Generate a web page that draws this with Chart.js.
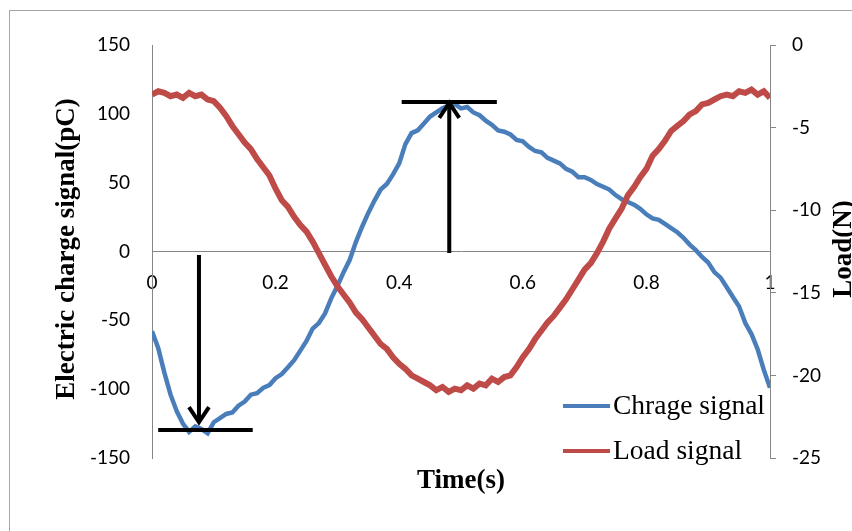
<!DOCTYPE html>
<html>
<head>
<meta charset="utf-8">
<script src="https://cdn.jsdelivr.net/npm/chart.js@4.4.1/dist/chart.umd.min.js"></script>
<style>
    html, body { margin: 0; padding: 0; background: #fff; }
    #wrap { width: 852px; height: 531px; }
</style>
</head>
<body>
<div id="wrap"><canvas id="chart" width="852" height="531"></canvas></div>
<script>
/* ====================================
   Data
   ==================================== */

const time = [
    0.00, 0.01, 0.02, 0.03, 0.04, 0.05, 0.06, 0.07, 0.08, 0.09,
    0.10, 0.11, 0.12, 0.13, 0.14, 0.15, 0.16, 0.17, 0.18, 0.19,
    0.20, 0.21, 0.22, 0.23, 0.24, 0.25, 0.26, 0.27, 0.28, 0.29,
    0.30, 0.31, 0.32, 0.33, 0.34, 0.35, 0.36, 0.37, 0.38, 0.39,
    0.40, 0.41, 0.42, 0.43, 0.44, 0.45, 0.46, 0.47, 0.48, 0.49,
    0.50, 0.51, 0.52, 0.53, 0.54, 0.55, 0.56, 0.57, 0.58, 0.59,
    0.60, 0.61, 0.62, 0.63, 0.64, 0.65, 0.66, 0.67, 0.68, 0.69,
    0.70, 0.71, 0.72, 0.73, 0.74, 0.75, 0.76, 0.77, 0.78, 0.79,
    0.80, 0.81, 0.82, 0.83, 0.84, 0.85, 0.86, 0.87, 0.88, 0.89,
    0.90, 0.91, 0.92, 0.93, 0.94, 0.95, 0.96, 0.97, 0.98, 0.99,
    1.00
];

// Chrage signal (pC), left axis
const chargeSignal = [
    -58, -70, -88, -104, -116, -125, -131, -127, -129, -132,
    -124, -121, -118, -117, -112, -109, -104, -103, -99, -97,
    -92, -89, -84, -79, -72, -65, -56, -52, -45, -34,
    -25, -15, -6, 7, 18, 28, 37, 45, 49, 56,
    64, 78, 86, 88, 93, 98, 101, 104, 106, 107,
    104, 105, 101, 99, 95, 92, 88, 87, 85, 81,
    80, 76, 73, 72, 68, 66, 64, 60, 58, 54,
    54, 52, 49, 47, 45, 41, 38, 36, 34, 31,
    27, 24, 23, 20, 17, 14, 10, 5, 1, -4,
    -8, -15, -19, -26, -33, -40, -52, -60, -71, -86,
    -99
];

// Load signal (N), right axis
const loadSignal = [
    -3.0, -2.8, -2.9, -3.1, -3.0, -3.2, -2.9, -3.1, -3.0, -3.3,
    -3.4, -3.8, -4.3, -4.9, -5.4, -5.9, -6.3, -6.9, -7.4, -7.9,
    -8.7, -9.4, -9.8, -10.4, -10.9, -11.3, -11.9, -12.6, -13.3, -14.0,
    -14.6, -15.1, -15.6, -16.2, -16.6, -17.1, -17.6, -18.1, -18.4, -18.9,
    -19.3, -19.6, -20.0, -20.2, -20.4, -20.6, -20.9, -20.7, -21.0, -20.8,
    -20.9, -20.6, -20.8, -20.5, -20.6, -20.2, -20.4, -20.1, -20.0, -19.5,
    -18.9, -18.4, -17.8, -17.3, -16.8, -16.4, -15.9, -15.4, -14.8, -14.2,
    -13.6, -13.2, -12.6, -11.9, -11.1, -10.5, -9.9, -9.1, -8.6, -8.0,
    -7.5, -6.7, -6.3, -5.8, -5.2, -4.9, -4.6, -4.2, -4.0, -3.6,
    -3.5, -3.3, -3.1, -3.0, -3.1, -2.8, -2.9, -2.7, -3.0, -2.8,
    -3.2
];

const xTicks = [0, 0.2, 0.4, 0.6, 0.8, 1];
const leftTicks = [150, 100, 50, 0, -50, -100, -150];
const rightTicks = [0, -5, -10, -15, -20, -25];

// Arrows: [x, fromY, toY] in (time, pC)
const arrowDown = [0.076, -2.5, -124];
const arrowUp = [0.481, -1, 108];
// Horizontal bars: [x1, x2, y] in (time, pC)
const barLow = [0.010, 0.163, -129.6];
const barHigh = [0.404, 0.558, 108.6];

/* ====================================
   Drawing helpers
   ==================================== */

const AXIS_GRAY = '#868686';
const TICK_FONT = { family: 'Lato, sans-serif', size: 19 };
const SERIF = '"Liberation Serif", "Times New Roman", serif';

const decorPlugin = {
    id: 'decor',
    beforeDraw(chart) {
        const ctx = chart.ctx;
        ctx.save();
        ctx.fillStyle = '#ffffff';
        ctx.fillRect(0, 0, chart.width, chart.height);
        ctx.strokeStyle = '#a6a6a6';
        ctx.lineWidth = 1;
        ctx.strokeRect(9.5, 10.5, 900, 600);
        ctx.restore();
    },
    afterDatasetsDraw(chart) {
        const ctx = chart.ctx;
        const sx = chart.scales.x;
        const sy = chart.scales.y;

        ctx.save();
        ctx.strokeStyle = '#000';
        ctx.lineWidth = 4;
        ctx.lineCap = 'butt';

        // horizontal bars
        [barLow, barHigh].forEach(b => {
            const y = sy.getPixelForValue(b[2]);
            ctx.beginPath();
            ctx.moveTo(sx.getPixelForValue(b[0]), y);
            ctx.lineTo(sx.getPixelForValue(b[1]), y);
            ctx.stroke();
        });

        // arrows
        [arrowDown, arrowUp].forEach(a => {
            const x = sx.getPixelForValue(a[0]);
            const y0 = sy.getPixelForValue(a[1]);
            const y1 = sy.getPixelForValue(a[2]);
            const dir = y1 > y0 ? 1 : -1;
            ctx.beginPath();
            ctx.moveTo(x, y0);
            ctx.lineTo(x, y1);
            ctx.stroke();
            ctx.beginPath();
            ctx.moveTo(x - 10, y1 - dir * 15);
            ctx.lineTo(x, y1);
            ctx.lineTo(x + 10, y1 - dir * 15);
            ctx.stroke();
        });

        // legend inside plot
        ctx.lineWidth = 4;
        ctx.font = '27.5px ' + SERIF;
        ctx.fillStyle = '#000';
        ctx.textBaseline = 'middle';
        ctx.textAlign = 'left';
        const legendRows = [406, 451];
        chart.data.datasets.forEach((ds, i) => {
            const y = legendRows[i];
            ctx.strokeStyle = ds.borderColor;
            ctx.beginPath();
            ctx.moveTo(563, y);
            ctx.lineTo(610, y);
            ctx.stroke();
            ctx.fillText(ds.label, 613, y + 1);
        });

        // axis titles
        ctx.font = 'bold 27px ' + SERIF;
        ctx.textAlign = 'center';
        ctx.fillText('Time(s)', 461, 481);

        ctx.save();
        ctx.translate(67, 249);
        ctx.rotate(-Math.PI / 2);
        ctx.fillText('Electric charge signal(pC)', 0, 0);
        ctx.restore();

        ctx.save();
        ctx.translate(844, 249);
        ctx.rotate(-Math.PI / 2);
        ctx.fillText('Load(N)', 0, 0);
        ctx.restore();

        ctx.restore();
    }
};

/* ====================================
   Chart
   ==================================== */

new Chart(document.getElementById('chart'), {
    type: 'line',
    data: {
        datasets: [
            {
                label: 'Chrage signal',
                data: time.map((t, i) => ({ x: t, y: chargeSignal[i] })),
                borderColor: '#4a7ebb',
                borderWidth: 4.5,
                pointRadius: 0,
                tension: 0,
                yAxisID: 'y',
                order: 1
            },
            {
                label: 'Load signal',
                data: time.map((t, i) => ({ x: t, y: loadSignal[i] })),
                borderColor: '#be4b48',
                borderWidth: 6,
                pointRadius: 0,
                tension: 0,
                yAxisID: 'y1',
                order: 0
            }
        ]
    },
    options: {
        responsive: false,
        animation: false,
        layout: { padding: { top: 45, bottom: 73, left: 0, right: 0 } },
        plugins: {
            legend: { display: false },
            tooltip: { enabled: false }
        },
        scales: {
            x: {
                type: 'linear',
                position: { y: 0 },
                min: 0,
                max: 1,
                afterBuildTicks: (s) => { s.ticks = xTicks.map(v => ({ value: v })); },
                ticks: {
                    font: TICK_FONT,
                    color: '#000',
                    padding: 20,
                    maxRotation: 0,
                    callback: (v) => String(v)
                },
                grid: { display: false, drawTicks: false },
                border: { display: true, color: AXIS_GRAY, width: 1 }
            },
            y: {
                type: 'linear',
                position: 'left',
                min: -150,
                max: 150,
                afterBuildTicks: (s) => { s.ticks = leftTicks.map(v => ({ value: v })); },
                afterFit: (s) => { s.width = 152; },
                ticks: {
                    font: TICK_FONT,
                    color: '#000',
                    padding: 22,
                    callback: (v) => String(v)
                },
                grid: { display: false, drawTicks: false },
                border: { display: true, color: AXIS_GRAY, width: 1 }
            },
            y1: {
                type: 'linear',
                position: 'right',
                min: -25,
                max: 0,
                afterBuildTicks: (s) => { s.ticks = rightTicks.map(v => ({ value: v })); },
                afterFit: (s) => { s.width = 82; },
                ticks: {
                    font: TICK_FONT,
                    color: '#000',
                    padding: 16,
                    callback: (v) => String(v)
                },
                grid: {
                    display: true,
                    drawOnChartArea: false,
                    drawTicks: true,
                    tickLength: 6,
                    color: AXIS_GRAY
                },
                border: { display: true, color: AXIS_GRAY, width: 1 }
            }
        }
    },
    plugins: [decorPlugin]
});
</script>
</body>
</html>
